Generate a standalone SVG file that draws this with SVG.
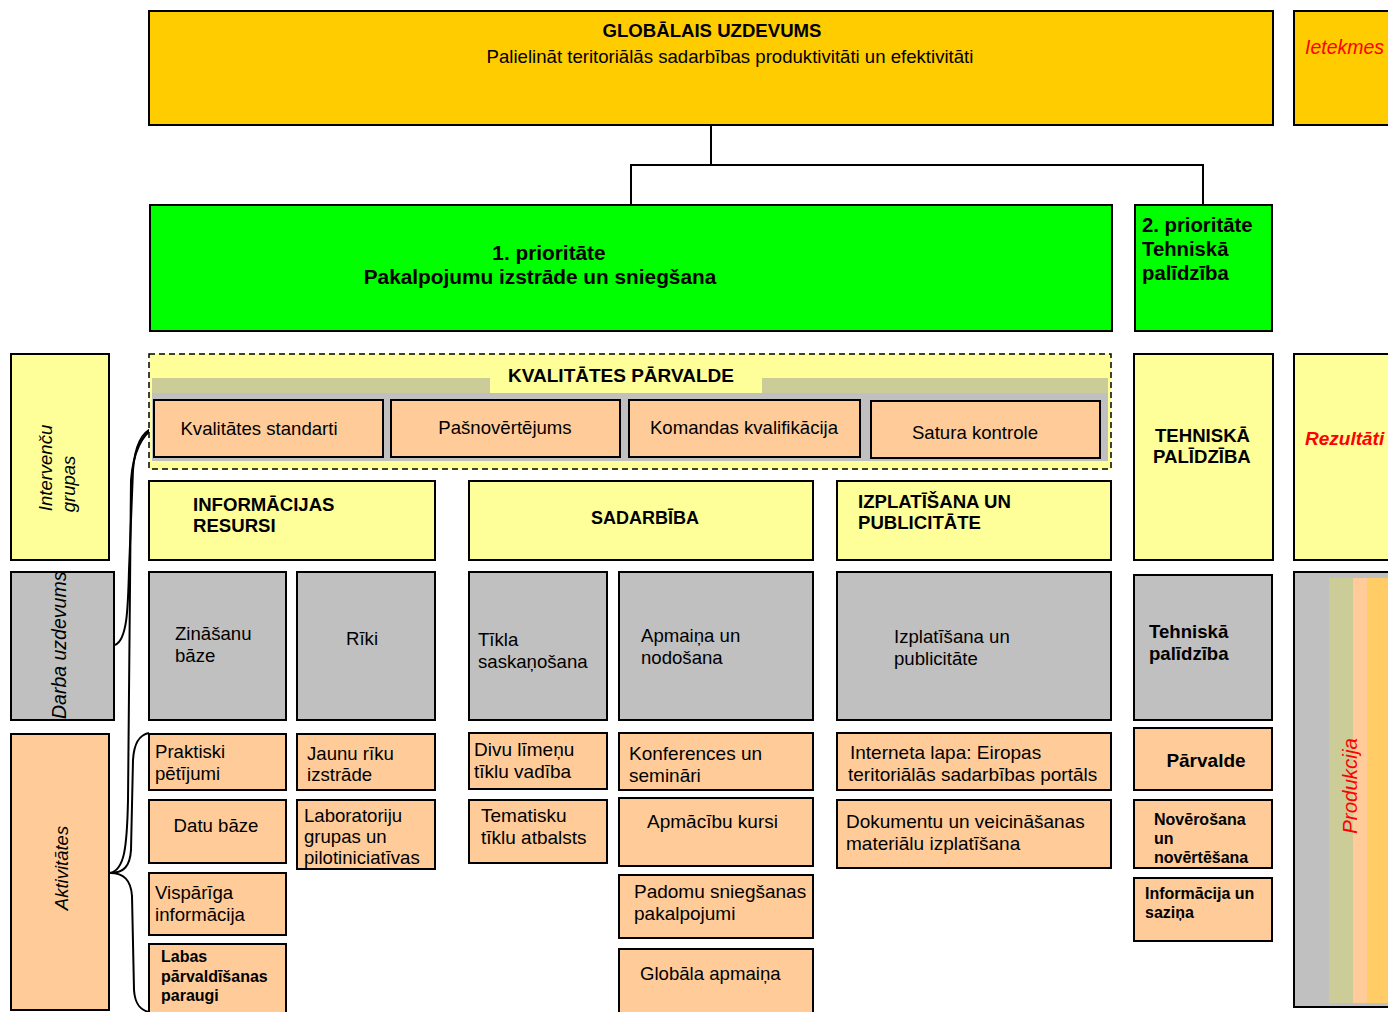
<svg xmlns="http://www.w3.org/2000/svg" width="1388" height="1012" viewBox="0 0 1388 1012">
<style>
text{font-family:"Liberation Sans",Arial,sans-serif;fill:#000}
.b{stroke:#000;stroke-width:2}
.gold{fill:#FFCC00}
.green{fill:#00FF00}
.yel{fill:#FFFF99}
.gray{fill:#C0C0C0}
.org{fill:#FFCC99}
.t17{font-size:17px}
.t18{font-size:18px}
.t185{font-size:18.6px}
.t19{font-size:19px}
.bold{font-weight:bold}
.red{fill:#FF0000}
.it{font-style:italic}
.conn{fill:none;stroke:#000;stroke-width:2}
</style>
<rect width="1388" height="1012" fill="#fff"/>

<g id="connectors">
<path class="conn" d="M711,125 V165 M631,205 V165 H1203 V205"/>
<path class="conn" d="M115,645 C127,640 128,610 129,570 L133,470 C135,445 142,432 153,428"/>
<path class="conn" d="M110,873 C124,870 127,850 128,800 L131,480 C133,452 143,434 153,429"/>
<path class="conn" d="M110,873 C124,873 130,866 131,850 L133,760 C134,743 139,735 149,733"/>
<path class="conn" d="M110,873 C124,873 131,880 132,896 L134,990 C135,1004 140,1010 149,1012"/>
</g>

<g id="global">
<rect class="b gold" x="149" y="11" width="1124" height="114"/>
<text class="bold" font-size="18.6" x="712" y="37" text-anchor="middle">GLOBĀLAIS UZDEVUMS</text>
<text class="t185" x="730" y="63" text-anchor="middle">Palielināt teritoriālās sadarbības produktivitāti un efektivitāti</text>
</g>
<g id="ietekmes">
<rect class="b gold" x="1294" y="11" width="100" height="114"/>
<text class="it red" font-size="19.5" x="1305" y="54">Ietekmes</text>
</g>

<g id="prio1">
<rect class="b green" x="150" y="205" width="962" height="126"/>
<text class="bold" font-size="20.8" x="549" y="260" text-anchor="middle">1. prioritāte</text>
<text class="bold" font-size="20.8" x="540" y="284" text-anchor="middle">Pakalpojumu izstrāde un sniegšana</text>
</g>
<g id="prio2">
<rect class="b green" x="1135" y="205" width="137" height="126"/>
<text class="bold" font-size="20.3" x="1142" y="232">2. prioritāte</text>
<text class="bold" font-size="20.3" x="1142" y="256">Tehniskā</text>
<text class="bold" font-size="20.3" x="1142" y="280">palīdzība</text>
</g>

<g id="intervencu">
<rect class="b yel" x="11" y="354" width="98" height="206"/>
<text class="it" font-size="18.5" transform="translate(52,468) rotate(-90)" text-anchor="middle">Intervenču</text>
<text class="it" font-size="18.5" transform="translate(75,484) rotate(-90)" text-anchor="middle">grupas</text>
</g>
<g id="darba">
<rect class="b gray" x="11" y="572" width="103" height="148"/>
<text class="it" font-size="19.5" transform="translate(66,719) rotate(-90)">Darba uzdevums</text>
</g>
<g id="aktivitates">
<rect class="b org" x="11" y="734" width="98" height="276"/>
<text class="it" font-size="18.5" transform="translate(68,868) rotate(-90)" text-anchor="middle">Aktivitātes</text>
</g>

<g id="kvalitate">
<rect x="149" y="354" width="962" height="115" fill="#FFFF99" stroke="#000" stroke-width="1.5" stroke-dasharray="6,4"/>
<rect x="152" y="378" width="956" height="17" fill="#CCCC99"/>
<rect x="152" y="393" width="956" height="68" fill="#C0C0C0"/>
<rect x="490" y="362" width="272" height="31" fill="#FFFF99"/>
<text class="t19 bold" x="621" y="382" text-anchor="middle">KVALITĀTES PĀRVALDE</text>
</g>
<g id="kval-standarti">
<rect class="b org" x="154" y="400" width="229" height="57"/>
<text class="t185" x="259" y="435" text-anchor="middle">Kvalitātes standarti</text>
</g>
<g id="pasnovertejums">
<rect class="b org" x="391" y="400" width="229" height="57"/>
<text class="t185" x="505" y="434" text-anchor="middle">Pašnovērtējums</text>
</g>
<g id="komandas">
<rect class="b org" x="629" y="400" width="231" height="57"/>
<text class="t185" x="744" y="434" text-anchor="middle">Komandas kvalifikācija</text>
</g>
<g id="satura">
<rect class="b org" x="871" y="401" width="229" height="57"/>
<text class="t185" x="975" y="439" text-anchor="middle">Satura kontrole</text>
</g>

<g id="info-resursi">
<rect class="b yel" x="149" y="481" width="286" height="79"/>
<text class="t185 bold" x="193" y="511">INFORMĀCIJAS</text>
<text class="t185 bold" x="193" y="532">RESURSI</text>
</g>
<g id="sadarbiba">
<rect class="b yel" x="469" y="481" width="344" height="79"/>
<text class="t18 bold" x="645" y="524" text-anchor="middle">SADARBĪBA</text>
</g>
<g id="izplatisana">
<rect class="b yel" x="837" y="481" width="274" height="79"/>
<text class="t185 bold" x="858" y="508">IZPLATĪŠANA UN</text>
<text class="t185 bold" x="858" y="529">PUBLICITĀTE</text>
</g>
<g id="tehniska-pal">
<rect class="b yel" x="1134" y="354" width="139" height="206"/>
<text class="t185 bold" x="1155" y="442">TEHNISKĀ</text>
<text class="t185 bold" x="1153" y="463">PALĪDZĪBA</text>
</g>
<g id="rezultati">
<rect class="b yel" x="1294" y="354" width="100" height="206"/>
<text class="t19 bold it red" x="1305" y="445">Rezultāti</text>
</g>

<g id="zinasanu">
<rect class="b gray" x="149" y="572" width="137" height="148"/>
<text class="t185" x="175" y="640">Zināšanu</text>
<text class="t185" x="175" y="662">bāze</text>
</g>
<g id="riki">
<rect class="b gray" x="297" y="572" width="138" height="148"/>
<text class="t185" x="346" y="645">Rīki</text>
</g>
<g id="tikla">
<rect class="b gray" x="469" y="572" width="138" height="148"/>
<text class="t185" x="478" y="646">Tīkla</text>
<text class="t185" x="478" y="668">saskaņošana</text>
</g>
<g id="apmaina">
<rect class="b gray" x="619" y="572" width="194" height="148"/>
<text class="t185" x="641" y="642">Apmaiņa un</text>
<text class="t185" x="641" y="664">nodošana</text>
</g>
<g id="izplat-pub">
<rect class="b gray" x="837" y="572" width="274" height="148"/>
<text class="t185" x="894" y="643">Izplatīšana un</text>
<text class="t185" x="894" y="665">publicitāte</text>
</g>
<g id="tehn-pal">
<rect class="b gray" x="1134" y="575" width="138" height="145"/>
<text class="t185 bold" x="1149" y="638">Tehniskā</text>
<text class="t185 bold" x="1149" y="660">palīdzība</text>
</g>
<g id="produkcija">
<rect class="b gray" x="1294" y="572" width="100" height="435"/>
<rect x="1329" y="578" width="24" height="425" fill="#CCCC99"/>
<rect x="1353" y="578" width="14" height="425" fill="#FFCC99"/>
<rect x="1367" y="578" width="21" height="425" fill="#FFCC66"/>
<text class="it red" font-size="20.5" transform="translate(1357,786) rotate(-90)" text-anchor="middle">Produkcija</text>
</g>

<g id="praktiski">
<rect class="b org" x="149" y="734" width="137" height="56"/>
<text class="t185" x="155" y="758">Praktiski</text>
<text class="t185" x="155" y="780">pētījumi</text>
</g>
<g id="datu-baze">
<rect class="b org" x="149" y="800" width="137" height="63"/>
<text class="t185" x="216" y="832" text-anchor="middle">Datu bāze</text>
</g>
<g id="visparga">
<rect class="b org" x="149" y="873" width="137" height="62"/>
<text class="t185" x="155" y="899">Vispārīga</text>
<text class="t185" x="155" y="921">informācija</text>
</g>
<g id="labas">
<rect class="b org" x="149" y="944" width="137" height="72"/>
<text class="bold" font-size="16" x="161" y="962">Labas</text>
<text class="bold" font-size="16" x="161" y="982">pārvaldīšanas</text>
<text class="bold" font-size="16" x="161" y="1001">paraugi</text>
</g>
<g id="jaunu-riku">
<rect class="b org" x="297" y="734" width="138" height="56"/>
<text class="t185" x="307" y="760">Jaunu rīku</text>
<text class="t185" x="307" y="781">izstrāde</text>
</g>
<g id="laboratoriju">
<rect class="b org" x="297" y="800" width="138" height="69"/>
<text class="t185" x="304" y="822">Laboratoriju</text>
<text class="t185" x="304" y="843">grupas un</text>
<text class="t185" x="304" y="864">pilotiniciatīvas</text>
</g>
<g id="divu">
<rect class="b org" x="469" y="733" width="138" height="56"/>
<text class="t19" x="474" y="756">Divu līmeņu</text>
<text class="t19" x="474" y="778">tīklu vadība</text>
</g>
<g id="tematisku">
<rect class="b org" x="469" y="800" width="138" height="63"/>
<text class="t19" x="481" y="822">Tematisku</text>
<text class="t19" x="481" y="844">tīklu atbalsts</text>
</g>
<g id="konferences">
<rect class="b org" x="619" y="733" width="194" height="57"/>
<text class="t19" x="629" y="760">Konferences un</text>
<text class="t19" x="629" y="782">semināri</text>
</g>
<g id="apmacibu">
<rect class="b org" x="619" y="798" width="194" height="68"/>
<text class="t19" x="647" y="828">Apmācību kursi</text>
</g>
<g id="padomu">
<rect class="b org" x="619" y="875" width="194" height="63"/>
<text class="t19" x="634" y="898">Padomu sniegšanas</text>
<text class="t19" x="634" y="920">pakalpojumi</text>
</g>
<g id="globala">
<rect class="b org" x="619" y="949" width="194" height="68"/>
<text class="t185" x="640" y="980">Globāla apmaiņa</text>
</g>
<g id="interneta">
<rect class="b org" x="837" y="733" width="274" height="57"/>
<text class="t19" x="850" y="759">Interneta lapa: Eiropas</text>
<text class="t19" x="848" y="781">teritoriālās sadarbības portāls</text>
</g>
<g id="dokumentu">
<rect class="b org" x="837" y="800" width="274" height="68"/>
<text class="t19" x="846" y="828">Dokumentu un veicināšanas</text>
<text class="t19" x="846" y="850">materiālu izplatīšana</text>
</g>
<g id="parvalde">
<rect class="b org" x="1134" y="728" width="138" height="62"/>
<text class="t19 bold" x="1206" y="767" text-anchor="middle">Pārvalde</text>
</g>
<g id="noverosana">
<rect class="b org" x="1134" y="800" width="138" height="68"/>
<text class="bold" font-size="16" x="1154" y="825">Novērošana</text>
<text class="bold" font-size="16" x="1154" y="844">un</text>
<text class="bold" font-size="16" x="1154" y="863">novērtēšana</text>
</g>
<g id="informacija-sazina">
<rect class="b org" x="1134" y="878" width="138" height="63"/>
<text class="bold" font-size="16" x="1145" y="899">Informācija un</text>
<text class="bold" font-size="16" x="1145" y="918">saziņa</text>
</g>
</svg>
